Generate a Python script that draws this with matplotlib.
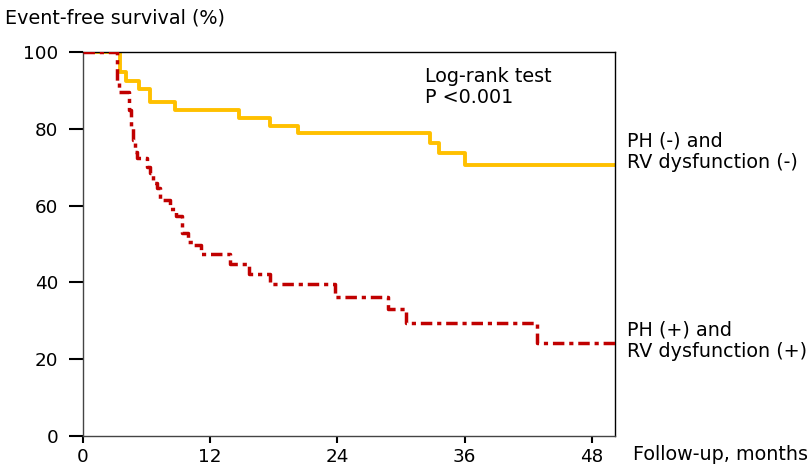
import matplotlib.pyplot as plt
import numpy as np

# Kaplan-Meier curves (months, % event-free)
t_neg = [0, 3.5, 4.1, 5.3, 6.3, 8.7, 14.7, 17.6, 20.3, 32.7, 33.6, 36.0, 50.2]
s_neg = [100, 94.8, 92.5, 90.5, 86.9, 84.9, 82.7, 80.8, 78.8, 76.2, 73.6, 70.6, 70.6]

t_pos = [0, 3.2, 3.4, 4.3, 4.5, 4.75, 4.95, 5.1, 6.0, 6.3, 6.6, 7.0, 7.3, 8.2, 8.8,
         9.3, 9.9, 10.5, 11.1, 13.9, 15.7, 17.6, 23.8, 28.8, 30.5, 42.8, 50.2]
s_pos = [100, 92, 89.7, 85, 80.5, 77, 74, 72.3, 70, 68.5, 66, 64.5, 61.5, 59, 57.3,
         52.8, 50.5, 49.7, 47.3, 44.7, 42.1, 39.5, 36.3, 33.0, 29.3, 24.1, 24.1]

xticks = [0, 12, 24, 36, 48]
yticks = [0, 20, 40, 60, 80, 100]

fs = 13.2   # ticks
fa = 13.8   # annotations

fig = plt.figure(figsize=(8.09, 4.69), dpi=100)
ax = fig.add_axes([0.1026, 0.0704, 0.6576, 0.8186])

ax.step(t_neg, s_neg, where='post', color='#FFC000', lw=2.8, zorder=2)
ln, = ax.step(t_pos, s_pos, where='post', color='#C00000', lw=2.5, zorder=3)
ln.set_dashes((3.3, 1.4, 1.2, 1.4))

ax.set_xlim(0, 50.2)
ax.set_ylim(0, 100)
ax.set_xticks(xticks)
ax.set_yticks(yticks)
ax.tick_params(axis='y', direction='out', length=10, width=1.5, labelsize=fs, pad=8)
ax.tick_params(axis='x', direction='out', length=5, width=1.5, labelsize=fs, pad=4)
for sp in ax.spines.values():
    sp.set_linewidth(1.0)
ax.spines['left'].set_color('#444444')
ax.spines['bottom'].set_color('#444444')

fig.text(0.006, 0.962, 'Event-free survival (%)', fontsize=fa, va='center', ha='left')
fig.text(0.782, 0.03, 'Follow-up, months', fontsize=fa, va='center', ha='left')
ax.text(0.643, 0.96, 'Log-rank test\nP <0.001', transform=ax.transAxes,
        fontsize=fa, va='top', ha='left', linespacing=1.1)
fig.text(0.775, 0.677, 'PH (-) and\nRV dysfunction (-)', fontsize=fa,
         va='center', ha='left', linespacing=1.15)
fig.text(0.775, 0.273, 'PH (+) and\nRV dysfunction (+)', fontsize=fa,
         va='center', ha='left', linespacing=1.15)

fig.savefig('out.png', dpi=100)
